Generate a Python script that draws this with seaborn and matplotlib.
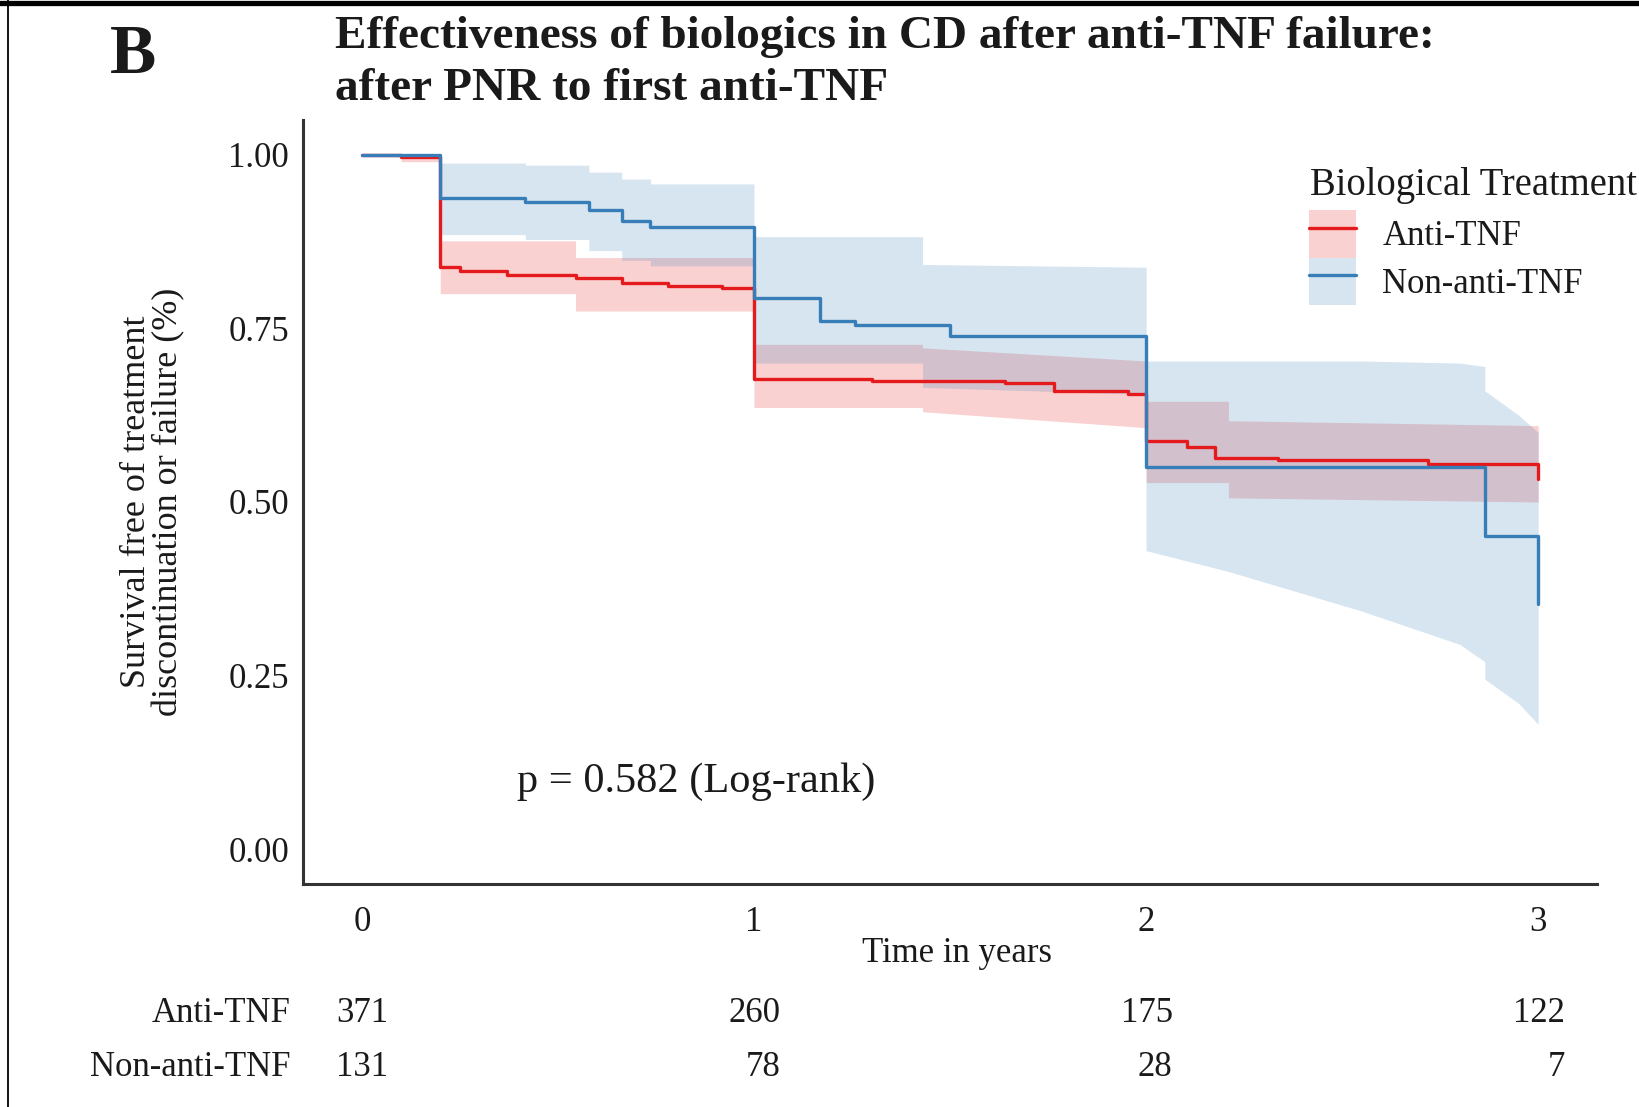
import numpy as np
import pandas as pd
import matplotlib
matplotlib.use("Agg")
import matplotlib.pyplot as plt
import seaborn as sns
from matplotlib.lines import Line2D
from matplotlib.patches import Patch
import matplotlib.transforms as mtransforms

# ---------------- data ----------------
groups = ["Anti-TNF", "Non-anti-TNF"]

anti_time = [0.0, 0.1, 0.2, 0.25, 0.37, 0.545, 0.663, 0.78, 0.918, 1.0, 1.30, 1.64,
             1.764, 1.955, 2.0, 2.104, 2.176, 2.337, 2.72, 3.0]
anti_surv = [1.0, 0.997, 0.838, 0.833, 0.827, 0.823, 0.816, 0.811, 0.808, 0.677, 0.674,
             0.671, 0.660, 0.656, 0.588, 0.579, 0.564, 0.560, 0.554, 0.533]

non_time = [0.0, 0.2, 0.417, 0.579, 0.663, 0.736, 1.0, 1.169, 1.258, 1.50, 2.0, 2.864, 3.0]
non_surv = [1.0, 0.937, 0.932, 0.921, 0.905, 0.896, 0.794, 0.761, 0.755, 0.739, 0.551,
            0.451, 0.353]

# confidence band outlines (vertices)
anti_band_x = [0.0, 0.1, 0.1, 0.2, 0.2, 0.545, 0.545, 1.0, 1.0, 1.43, 1.43, 2.0, 2.0,
               2.21, 2.21, 3.0]
anti_band_lo = [1.0, 1.0, 0.99, 0.99, 0.80, 0.80, 0.775, 0.775, 0.636, 0.636, 0.630,
                0.607, 0.528, 0.528, 0.506, 0.500]
anti_band_hi = [1.0, 1.0, 1.0, 1.0, 0.876, 0.876, 0.852, 0.852, 0.727, 0.727, 0.722,
                0.703, 0.645, 0.645, 0.617, 0.610]

non_band_x = [0.0, 0.2, 0.2, 0.417, 0.417, 0.579, 0.579, 0.663, 0.663, 0.736, 0.736,
              1.0, 1.0, 1.43, 1.43, 2.0, 2.0, 2.21, 2.55, 2.80, 2.864, 2.864, 2.95, 3.0]
non_band_lo = [1.0, 1.0, 0.885, 0.885, 0.878, 0.878, 0.862, 0.862, 0.848, 0.848, 0.840,
               0.840, 0.700, 0.700, 0.665, 0.655, 0.430, 0.400, 0.343, 0.295, 0.270,
               0.245, 0.210, 0.180]
non_band_hi = [1.0, 1.0, 0.988, 0.988, 0.985, 0.985, 0.975, 0.975, 0.965, 0.965, 0.958,
               0.958, 0.882, 0.882, 0.842, 0.838, 0.703, 0.703, 0.703, 0.700, 0.695,
               0.660, 0.625, 0.600]

risk_times = [0, 1, 2, 3]
risk_anti = [371, 260, 175, 122]
risk_non = [131, 78, 28, 7]

x_ticks = [0, 1, 2, 3]
y_ticks = [0.00, 0.25, 0.50, 0.75, 1.00]
y_tick_labels = ["0.00", "0.25", "0.50", "0.75", "1.00"]

title_line1 = "Effectiveness of biologics in CD after anti-TNF failure:"
title_line2 = "after PNR to first anti-TNF"
panel_letter = "B"
p_text = "p = 0.582 (Log-rank)"
legend_title = "Biological Treatment"

# ---------------- style ----------------
sns.set_theme(style="white")
plt.rcParams["font.family"] = ["Liberation Serif", "DejaVu Serif"]
plt.rcParams["text.color"] = "#1a1a1a"

colors = {"Anti-TNF": "#E41A1C", "Non-anti-TNF": "#377EB8"}
ink = "#1a1a1a"
W, H = 1640, 1107
fig = plt.figure(figsize=(W / 100, H / 100), dpi=100)
fig.patch.set_facecolor("white")

ax_l, ax_r, ax_t, ax_b = 303, 1597, 120, 884
ax = fig.add_axes([ax_l / W, 1 - ax_b / H, (ax_r - ax_l) / W, (ax_b - ax_t) / H])

# bands
ax.fill_between(anti_band_x, anti_band_lo, anti_band_hi, color=colors["Anti-TNF"],
                alpha=0.2, lw=0, zorder=1)
ax.fill_between(non_band_x, non_band_lo, non_band_hi, color=colors["Non-anti-TNF"],
                alpha=0.2, lw=0, zorder=1)

# curves
df = pd.concat([
    pd.DataFrame({"time": anti_time, "surv": anti_surv, "group": groups[0]}),
    pd.DataFrame({"time": non_time, "surv": non_surv, "group": groups[1]}),
], ignore_index=True)
sns.lineplot(data=df, x="time", y="surv", hue="group", palette=colors,
             estimator=None, sort=False, drawstyle="steps-post", lw=2.4,
             legend=False, ax=ax, zorder=3)

ax.set_xlim(-0.15, 3.15)
ax.set_ylim(-0.05, 1.05)
ax.set_xticks(x_ticks)
ax.set_xticklabels([str(t) for t in x_ticks])
ax.set_yticks(y_ticks)
ax.set_yticklabels(y_tick_labels)
ax.set_xlabel("")
ax.set_ylabel("Survival free of treatment\ndiscontinuation or failure (%)",
              fontsize=26, color=ink, linespacing=0.97)
ax.yaxis.set_label_coords(-0.091, 0.5)

for s in ["top", "right"]:
    ax.spines[s].set_visible(False)
for s in ["left", "bottom"]:
    ax.spines[s].set_color("#333333")
    ax.spines[s].set_linewidth(2.2)
ax.tick_params(axis="both", direction="out", length=6, width=1.3, color="#333333",
               labelsize=25, labelcolor=ink)
ax.tick_params(axis="x", pad=10)
ax.tick_params(axis="y", pad=4)
ax.set_facecolor("white")
ax.grid(False)

# p-value
ax.text(0.395, 0.097, p_text, fontsize=30.5, ha="left", va="center", color=ink)

# legend (title drawn separately)
handles = []
for g in groups:
    handles.append((Patch(facecolor=colors[g], alpha=0.2, lw=0),
                    Line2D([], [], color=colors[g], lw=2.4)))
leg = fig.legend(handles, groups, loc="upper left",
                 bbox_to_anchor=(1285 / W, 1 - 186 / H), frameon=False, fontsize=25,
                 handlelength=1.35, handleheight=1.72,
                 handletextpad=0.75, labelspacing=0.0, borderpad=0.2)
fig.text(1310 / W, 1 - 185 / H, legend_title, fontsize=27.8, ha="left", va="center",
         color=ink)

# titles
fig.text(110 / W, 1 - 73 / H, panel_letter, fontsize=50, fontweight="bold",
         ha="left", va="baseline", color=ink)
fig.text(335 / W, 1 - 48 / H, title_line1, fontsize=34, fontweight="bold",
         ha="left", va="baseline", color=ink)
fig.text(335 / W, 1 - 100 / H, title_line2, fontsize=34, fontweight="bold",
         ha="left", va="baseline", color=ink)

# x label
fig.text(957 / W, 1 - 954 / H, "Time in years", fontsize=25, ha="center",
         va="center", color=ink)

# risk table
trans = mtransforms.blended_transform_factory(ax.transData, fig.transFigure)
row_y = [1 - 1013 / H, 1 - 1068 / H]
for name, vals, yy in zip(groups, [risk_anti, risk_non], row_y):
    fig.text(291 / W, yy, name, fontsize=25, ha="right", va="center", color=ink)
    for t, v in zip(risk_times, vals):
        ax.text(t + 0.068, yy, str(v), transform=trans, fontsize=25, ha="right",
                va="center", color=ink, clip_on=False)

# frame lines of the panel
fig.add_artist(Line2D([0, 1], [1 - 2.5 / H, 1 - 2.5 / H], transform=fig.transFigure,
                      color="black", lw=3.8))
fig.add_artist(Line2D([8 / W, 8 / W], [0, 1], transform=fig.transFigure,
                      color="black", lw=1.3))

fig.savefig("out.png", dpi=100, facecolor="white")
